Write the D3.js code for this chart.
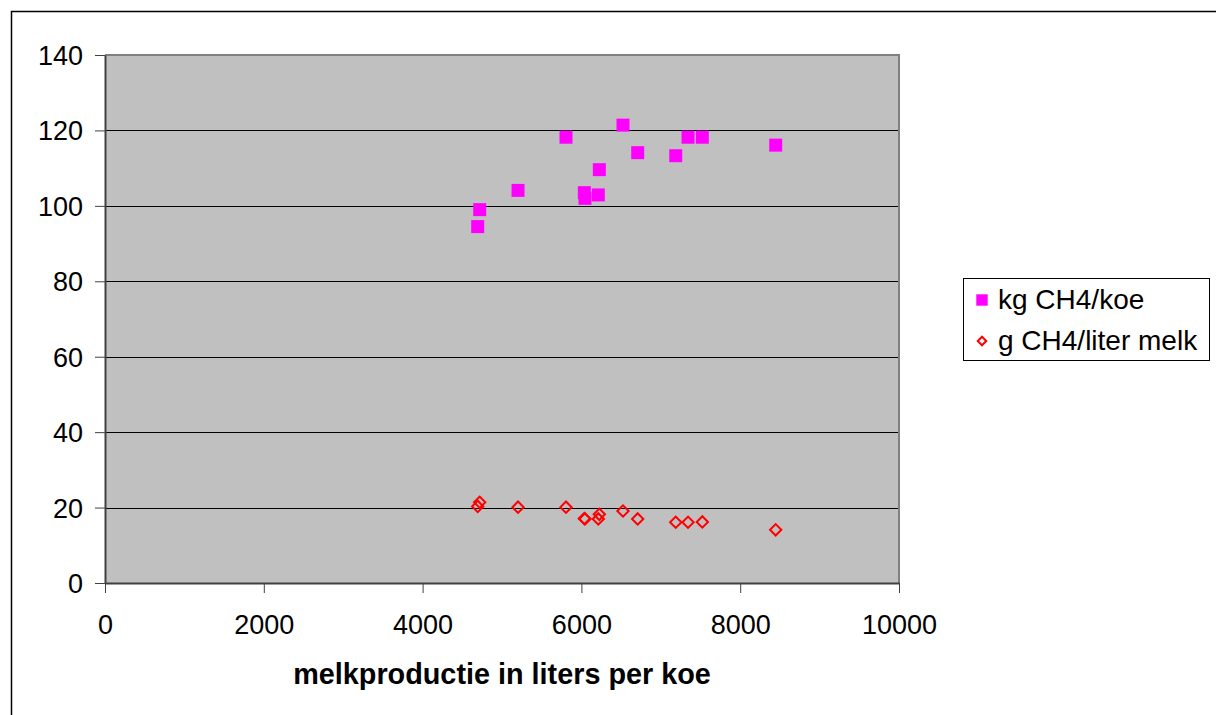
<!DOCTYPE html>
<html>
<head>
<meta charset="utf-8">
<script src="https://cdn.jsdelivr.net/npm/d3@7"></script>
<style>
  html, body { margin: 0; padding: 0; background: #fff; }
  svg { display: block; }
</style>
</head>
<body>
<div id="chart"></div>
<script>
// melk production vs methane emission per cow / per liter
const melkLiters = [4694, 4719, 5202, 5806, 6037, 6045, 6213, 6226, 6524, 6709, 7188, 7343, 7523, 8447];
const kgPerKoe   = [94.5, 99.0, 104.1, 118.2, 103.5, 102.0, 102.9, 109.6, 121.4, 114.1, 113.3, 118.2, 118.2, 116.1];
const gPerLiter  = [20.3, 21.4, 20.1, 20.1, 17.1, 17.0, 17.0, 18.2, 19.1, 17.0, 16.1, 16.1, 16.2, 14.1];
const seriesNames = ["kg CH4/koe", "g CH4/liter melk"];
const xTicks = [0, 2000, 4000, 6000, 8000, 10000];
const yTicks = [0, 20, 40, 60, 80, 100, 120, 140];

(function() {
    const W = 1216, H = 715;
    const plot = {left: 105, top: 55, right: 899, bottom: 583};
    const font = "Arial, 'Liberation Sans', sans-serif";

    const svg = d3.select("#chart")
        .append("svg")
        .attr("width", W)
        .attr("height", H)
        .style("font-family", font);

    // outer chart border (runs off the right/bottom edge)
    svg.append("rect")
        .attr("x", 11.5).attr("y", 11.5)
        .attr("width", W + 20).attr("height", H + 20)
        .attr("fill", "#fff")
        .attr("stroke", "#000")
        .attr("stroke-width", 1.5);

    const x = d3.scaleLinear().domain([0, 10000]).range([plot.left, plot.right]);
    const y = d3.scaleLinear().domain([0, 140]).range([plot.bottom, plot.top]);

    // plot area
    svg.append("rect")
        .attr("x", plot.left).attr("y", plot.top)
        .attr("width", plot.right - plot.left)
        .attr("height", plot.bottom - plot.top)
        .attr("fill", "#c0c0c0");

    // gridlines
    svg.append("g")
        .selectAll("line")
        .data(yTicks.filter(d => d > 0 && d < 140))
        .enter()
        .append("line")
        .attr("x1", plot.left).attr("x2", plot.right)
        .attr("y1", d => Math.round(y(d)) + 0.5)
        .attr("y2", d => Math.round(y(d)) + 0.5)
        .attr("stroke", "#000")
        .attr("stroke-width", 1);

    // plot border top/right
    svg.append("path")
        .attr("d", `M${plot.left},${plot.top}H${plot.right}V${plot.bottom}`)
        .attr("fill", "none")
        .attr("stroke", "#808080")
        .attr("stroke-width", 2);

    // axes
    const xAxis = svg.append("g")
        .attr("transform", `translate(0,${plot.bottom})`)
        .call(d3.axisBottom(x).tickValues(xTicks).tickFormat(d3.format("d"))
            .tickSize(10).tickSizeOuter(0).tickPadding(22));
    const yAxis = svg.append("g")
        .attr("transform", `translate(${plot.left},0)`)
        .call(d3.axisLeft(y).tickValues(yTicks).tickSize(10).tickSizeOuter(0).tickPadding(12));

    [xAxis, yAxis].forEach(a => {
        a.select(".domain").attr("stroke", "#404040").attr("stroke-width", 2);
        a.selectAll(".tick line").attr("stroke", "#404040").attr("stroke-width", 1);
        a.selectAll("text")
            .attr("font-family", font)
            .attr("font-size", "27px")
            .attr("fill", "#000");
    });
    xAxis.selectAll("text").attr("dy", "0.71em");
    yAxis.selectAll("text").attr("dy", "0.35em");

    // axis title
    svg.append("text")
        .attr("x", 502)
        .attr("y", 684)
        .attr("text-anchor", "middle")
        .attr("font-size", "28.8px")
        .attr("font-weight", "bold")
        .text("melkproductie in liters per koe");

    const square = d3.symbol().type(d3.symbolSquare);
    const points = melkLiters.map((m, i) => ({m: m, kg: kgPerKoe[i], g: gPerLiter[i]}));

    // g per liter: open red diamonds
    svg.append("g")
        .selectAll("path")
        .data(points)
        .enter()
        .append("path")
        .attr("d", square.size(64)())
        .attr("transform", d => `translate(${x(d.m)},${y(d.g)}) rotate(45)`)
        .attr("fill", "none")
        .attr("stroke", "#ff0000")
        .attr("stroke-width", 2);

    // kg per cow: magenta squares
    svg.append("g")
        .selectAll("path")
        .data(points)
        .enter()
        .append("path")
        .attr("d", square.size(169)())
        .attr("transform", d => `translate(${x(d.m)},${y(d.kg)})`)
        .attr("fill", "#ff00ff");

    // legend
    const legend = svg.append("g");
    legend.append("rect")
        .attr("x", 963.5).attr("y", 278.5)
        .attr("width", 246).attr("height", 82)
        .attr("fill", "#fff")
        .attr("stroke", "#000")
        .attr("stroke-width", 1);

    seriesNames.forEach((name, i) => {
        const row = legend.append("g")
            .attr("transform", `translate(982,${300 + i * 41})`);
        if (i === 0) {
            row.append("path")
                .attr("d", square.size(130)())
                .attr("fill", "#ff00ff");
        } else {
            row.append("path")
                .attr("d", square.size(36)())
                .attr("transform", "rotate(45)")
                .attr("fill", "none")
                .attr("stroke", "#ff0000")
                .attr("stroke-width", 2);
        }
        row.append("text")
            .attr("x", 16)
            .attr("y", 9)
            .attr("font-size", "28px")
            .attr("fill", "#000")
            .text(name);
    });
})();
</script>
</body>
</html>
